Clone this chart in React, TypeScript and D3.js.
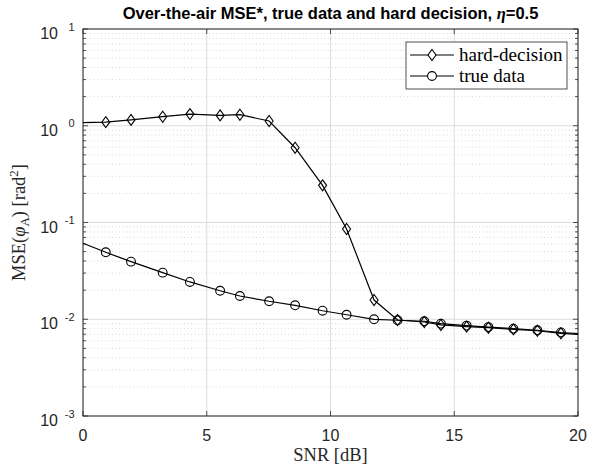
import React from 'react';
import * as d3 from 'd3';

const snr = [0, 0.92, 1.94, 3.22, 4.32, 5.54, 6.34, 7.52, 8.57, 9.68, 10.65, 11.76, 12.71, 13.79, 14.46, 15.5, 16.38, 17.39, 18.36, 19.31, 20];
const hardDecision = [1.075, 1.09, 1.15, 1.24, 1.32, 1.28, 1.3, 1.12, 0.593, 0.242, 0.0857, 0.0158, 0.00982, 0.00937, 0.00873, 0.00838, 0.00818, 0.00787, 0.00761, 0.00716, 0.00699];
const trueData = [0.061, 0.0492, 0.0394, 0.0303, 0.0243, 0.0197, 0.0174, 0.01535, 0.01393, 0.01225, 0.01113, 0.00999, 0.00976, 0.00953, 0.009, 0.0086, 0.0083, 0.008, 0.0077, 0.0073, 0.0071];
const xTicks = [0, 5, 10, 15, 20];
const yTickExps = [1, 0, -1, -2, -3];
const legendLabels = ['hard-decision', 'true data'];

const L = 83, R = 578, T = 29, B = 416;
const AX = '#262626';
const SANS = '"Liberation Sans", Arial, Helvetica, sans-serif';
const SERIF = '"Liberation Serif", "DejaVu Serif", serif';

const diamond = 'M0,-5.5L4,0L0,5.5L-4,0Z';

export default function App() {
  const x = d3.scaleLinear().domain([0, 20]).range([L, R]);
  const y = d3.scaleLog().domain([1e-3, 1e1]).range([B, T]);
  const line = d3.line<number>().x((_, i) => x(snr[i])).y((v) => y(v));

  const minors: number[] = [];
  for (let e = -3; e <= 0; e++) for (let k = 2; k <= 9; k++) minors.push(k * Math.pow(10, e));

  const markerIdx = snr.map((_, i) => i).filter((i) => i > 0 && i < snr.length - 1);

  return (
    <svg width={593} height={466} style={{ position: 'absolute', left: 0, top: 0, background: '#fff' }}>
      <rect x={0} y={0} width={593} height={466} fill="#fff" />
      {minors.map((m) => (
        <line key={'mg' + m} x1={L} x2={R} y1={y(m)} y2={y(m)} stroke="#cfcfcf" strokeWidth={0.8} strokeDasharray="1,2.6" />
      ))}
      {yTickExps.map((e) => (
        <line key={'yg' + e} x1={L} x2={R} y1={y(Math.pow(10, e))} y2={y(Math.pow(10, e))} stroke="#dcdcdc" strokeWidth={1} />
      ))}
      {xTicks.map((t) => (
        <line key={'xg' + t} x1={x(t)} x2={x(t)} y1={T} y2={B} stroke="#dcdcdc" strokeWidth={1} />
      ))}
      {minors.map((m) => (
        <g key={'mt' + m}>
          <line x1={L} x2={L + 3} y1={y(m)} y2={y(m)} stroke={AX} strokeWidth={0.8} />
          <line x1={R} x2={R - 3} y1={y(m)} y2={y(m)} stroke={AX} strokeWidth={0.8} />
        </g>
      ))}
      {yTickExps.map((e) => (
        <g key={'yt' + e}>
          <line x1={L} x2={L + 5} y1={y(Math.pow(10, e))} y2={y(Math.pow(10, e))} stroke={AX} strokeWidth={0.8} />
          <line x1={R} x2={R - 5} y1={y(Math.pow(10, e))} y2={y(Math.pow(10, e))} stroke={AX} strokeWidth={0.8} />
          <text x={58} y={y(Math.pow(10, e)) + 10} textAnchor="end" fontFamily={SANS} fontSize={16} fill={AX}>10</text>
          <text x={74.5} y={y(Math.pow(10, e)) + 1.5} textAnchor="end" fontFamily={SANS} fontSize={11} fill={AX}>{e < 0 ? '-' + (-e) : String(e)}</text>
        </g>
      ))}
      {xTicks.map((t) => (
        <g key={'xt' + t}>
          <line x1={x(t)} x2={x(t)} y1={B} y2={B - 5} stroke={AX} strokeWidth={0.8} />
          <line x1={x(t)} x2={x(t)} y1={T} y2={T + 5} stroke={AX} strokeWidth={0.8} />
          <text x={x(t)} y={441} textAnchor="middle" fontFamily={SANS} fontSize={16} fill={AX}>{t}</text>
        </g>
      ))}
      <rect x={L} y={T} width={R - L} height={B - T} fill="none" stroke={AX} strokeWidth={1} />
      <path d={line(hardDecision) || ''} fill="none" stroke="#000" strokeWidth={1.2} />
      <path d={line(trueData) || ''} fill="none" stroke="#000" strokeWidth={1.2} />
      {markerIdx.map((i) => (
        <circle key={'c' + i} cx={x(snr[i])} cy={y(trueData[i])} r={4.4} fill="none" stroke="#000" strokeWidth={1.1} />
      ))}
      {markerIdx.map((i) => (
        <path key={'d' + i} d={diamond} transform={`translate(${x(snr[i])},${y(hardDecision[i])})`} fill="none" stroke="#000" strokeWidth={1.1} />
      ))}
      <rect x={406} y={42} width={161} height={47} fill="#fff" stroke={AX} strokeWidth={0.8} />
      {legendLabels.map((lab, i) => {
        const yy = 55 + i * 21;
        return (
          <g key={lab}>
            <line x1={410} x2={454} y1={yy} y2={yy} stroke="#000" strokeWidth={1.2} />
            {i === 0 ? (
              <path d={diamond} transform={`translate(432,${yy})`} fill="#fff" stroke="#000" strokeWidth={1.1} />
            ) : (
              <circle cx={432} cy={yy} r={4.4} fill="#fff" stroke="#000" strokeWidth={1.1} />
            )}
            <text x={459} y={yy + 5.5} fontFamily={SERIF} fontSize={19} fill="#000">{lab}</text>
          </g>
        );
      })}
      <text x={330.5} y={19} textAnchor="middle" fontFamily={SANS} fontSize={16.5} fontWeight="bold" fill="#000">
        Over-the-air MSE*, true data and hard decision, <tspan fontFamily={SERIF} fontStyle="italic">η</tspan>=0.5
      </text>
      <text x={330.5} y={461} textAnchor="middle" fontFamily={SERIF} fontSize={18.5} fill={AX}>SNR [dB]</text>
      <text transform="translate(25,222.5) rotate(-90)" textAnchor="middle" fontFamily={SERIF} fontSize={18.5} fill={AX}>
        MSE(<tspan fontStyle="italic">φ</tspan><tspan fontSize={13} dy={4}>A</tspan><tspan dy={-4}>) [rad</tspan><tspan fontSize={13} dy={-7}>2</tspan><tspan dy={7}>]</tspan>
      </text>
    </svg>
  );
}
